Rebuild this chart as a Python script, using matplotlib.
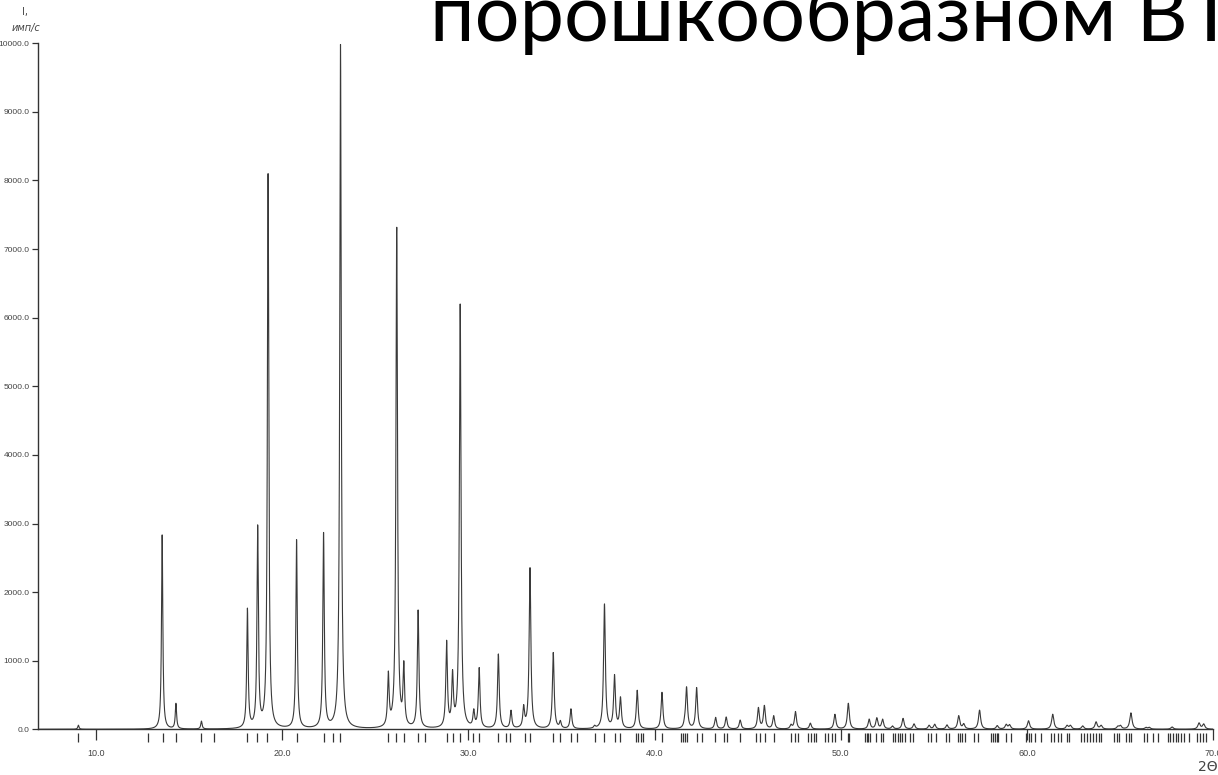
import numpy as np
import matplotlib
matplotlib.use("Agg")
import matplotlib.pyplot as plt

# peak positions (2theta, deg) and observed heights (counts/s)
peak_pos = [9.05, 13.55, 14.29, 15.66, 18.13, 18.68, 19.24, 20.77, 22.22, 23.13,
            25.70, 26.15, 26.53, 27.30, 28.83, 29.15, 29.56, 30.29, 30.58, 31.61,
            32.29, 32.97, 33.31, 34.56, 34.94, 35.51, 36.78, 37.31, 37.85, 38.17,
            39.07, 40.40, 41.62, 41.72, 42.26, 43.28, 43.85, 44.60, 45.58, 45.90,
            46.40, 47.33, 47.57, 48.37, 49.69, 50.41, 51.53, 51.94, 52.25, 52.78,
            53.35, 53.94, 54.75, 55.05, 55.71, 56.34, 56.61, 57.46, 58.41, 58.89,
            59.07, 60.09, 61.39, 62.16, 62.34, 63.00, 63.72, 63.99, 64.89, 65.03,
            65.59, 66.40, 66.58, 67.80, 69.25, 69.50]
peak_int = [60, 2840, 380, 120, 1770, 2980, 8100, 2770, 2870, 10000,
            850, 7330, 1000, 1740, 1300, 870, 6200, 300, 900, 1100,
            280, 360, 2360, 1120, 130, 300, 60, 1830, 800, 475,
            570, 540, 210, 620, 610, 175, 180, 135, 320, 350,
            200, 75, 260, 90, 220, 380, 150, 170, 150, 50,
            160, 80, 60, 75, 65, 200, 85, 280, 55, 75,
            70, 125, 220, 60, 60, 50, 110, 60, 50, 60,
            240, 30, 30, 35, 95, 80]

# calculated reflection positions (bar marks under the axis)
refl_pos = [9.05, 12.77, 13.57, 14.27, 15.66, 16.31, 18.11, 18.67, 19.20, 20.79,
            22.23, 22.72, 23.13, 25.69, 26.11, 26.56, 27.27, 27.68, 28.83, 29.19,
            29.54, 30.26, 30.58, 31.61, 32.04, 32.26, 33.04, 33.31, 34.56, 34.94,
            35.49, 35.85, 36.78, 37.31, 37.85, 38.14, 38.98, 39.12, 39.26, 39.40,
            40.40, 41.44, 41.53, 41.62, 41.74, 42.28, 42.55, 43.26, 43.71, 43.89,
            44.60, 45.44, 45.67, 45.94, 46.44, 47.34, 47.55, 47.73, 48.26, 48.42,
            48.59, 48.69, 49.16, 49.34, 49.51, 49.69, 50.37, 50.46, 51.30, 51.39,
            51.48, 51.57, 51.92, 52.19, 52.28, 52.82, 52.94, 53.07, 53.19, 53.32,
            53.44, 53.71, 53.89, 54.69, 54.87, 55.14, 55.67, 55.80, 56.30, 56.41,
            56.52, 56.66, 57.16, 57.37, 58.09, 58.18, 58.28, 58.39, 58.45, 58.89,
            59.16, 59.98, 60.09, 60.23, 60.44, 60.77, 61.30, 61.48, 61.66, 61.84,
            62.16, 62.29, 62.91, 63.05, 63.22, 63.38, 63.54, 63.70, 63.86, 63.98,
            64.70, 64.82, 64.97, 65.32, 65.47, 65.59, 66.31, 66.48, 66.75, 67.02,
            67.56, 67.70, 67.84, 67.99, 68.13, 68.27, 68.45, 68.72, 69.16, 69.31,
            69.45, 69.61]

x_ticks = [10.0, 20.0, 30.0, 40.0, 50.0, 60.0, 70.0]
y_ticks = [0, 1000, 2000, 3000, 4000, 5000, 6000, 7000, 8000, 9000, 10000]


def hwhm(t):
    return 0.04 + 0.0006 * (t - 10.0)


def lorentz(x, x0, g):
    return 1.0 / (1.0 + ((x - x0) / g) ** 2)


pos = np.array(peak_pos)
hts = np.array(peak_int, dtype=float)
gam = hwhm(pos)

# amplitudes so that the summed profile hits the observed heights at each maximum
M = lorentz(pos[:, None], pos[None, :], gam[None, :])
amp = np.linalg.solve(M, hts)

tt = np.arange(6.88, 70.0, 0.004)
prof = (amp[None, :] * lorentz(tt[:, None], pos[None, :], gam[None, :])).sum(axis=1)

fig = plt.figure(figsize=(12.18, 7.75), dpi=100)
ax = fig.add_axes([38 / 1218, 1 - 729.3 / 775, (1213 - 38) / 1218, (729.3 - 43.3) / 775])

ax.plot(tt, prof, color="#3a3a3a", lw=0.8)
ax.set_xlim(6.88, 70.0)
ax.set_ylim(0, 10000)

for s in ("top", "right"):
    ax.spines[s].set_visible(False)
for s in ("left", "bottom"):
    ax.spines[s].set_color("#333333")
    ax.spines[s].set_linewidth(1.0)

ax.set_xticks(x_ticks)
ax.set_xticklabels([f"{v:.1f}" for v in x_ticks], family="Liberation Sans")
ax.set_yticks(y_ticks)
ax.set_yticklabels([f"{v:.1f}" for v in y_ticks], family="Liberation Sans")
ax.tick_params(axis="x", direction="out", length=8, width=0.9, color="#333333",
               labelsize=6.5, labelcolor="#444444", pad=6)
ax.tick_params(axis="y", direction="out", length=4, width=0.9, color="#333333",
               labelsize=6, labelcolor="#444444", pad=2)

# reflection bars below the axis line
ax.vlines(refl_pos, -0.0185, -0.006, transform=ax.get_xaxis_transform(),
          colors="#333333", lw=0.9, clip_on=False)

fig.text(25 / 1218, 1 - 12 / 775, "I,", fontsize=7, color="#444444",
         ha="center", va="center")
fig.text(26 / 1218, 1 - 28 / 775, "имп/с", fontsize=7, color="#444444",
         ha="center", va="center", style="italic")
fig.text(1.0, 1 - 767 / 775, "2Θ", fontsize=10, color="#444444",
         ha="right", va="center")

fig.text(430 / 1218, 1 - 41 / 775, "порошкообразном ВТ", fontsize=57,
         family="Lato", color="black", ha="left", va="baseline")

fig.savefig("out.png", dpi=100)
